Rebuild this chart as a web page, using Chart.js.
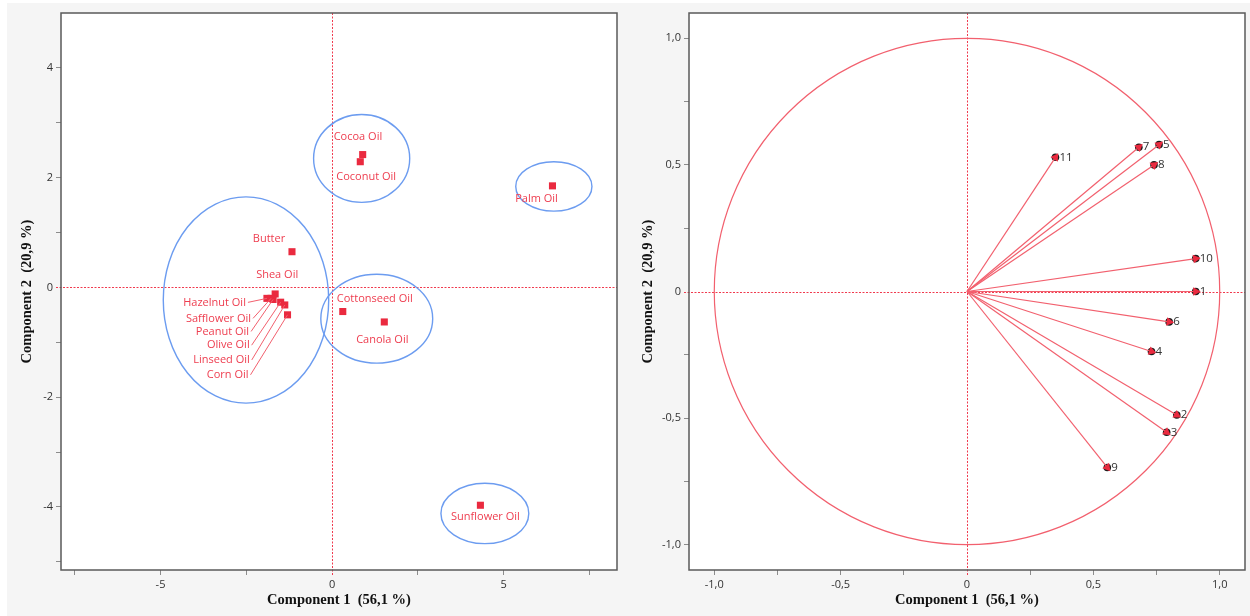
<!DOCTYPE html>
<html>
<head>
<meta charset="utf-8">
<script src="https://cdn.jsdelivr.net/npm/chart.js@4.4.0/dist/chart.umd.min.js"></script>
<style>
  html, body { margin: 0; padding: 0; background: #fff; width: 1250px; height: 616px; overflow: hidden; }
  #panel { position: absolute; left: 7px; top: 3px; width: 1243px; height: 613px; background: #f5f5f5; }
  canvas { position: absolute; top: 0; }
</style>
</head>
<body>
<div id="panel"></div>
<canvas id="scores" width="625" height="616" style="left:0"></canvas>
<canvas id="loadings" width="625" height="616" style="left:625px"></canvas>
<script>
// PCA scores (left)
const oilNames = ['Cocoa Oil', 'Coconut Oil', 'Palm Oil', 'Butter', 'Shea Oil', 'Hazelnut Oil',
  'Safflower Oil', 'Peanut Oil', 'Olive Oil', 'Linseed Oil', 'Corn Oil', 'Cottonseed Oil',
  'Canola Oil', 'Sunflower Oil'];
const pc1Scores = [0.89, 0.82, 6.42, -1.17, -1.66, -1.9, -1.78, -1.72, -1.5, -1.38, -1.3, 0.31, 1.52, 4.32];
const pc2Scores = [2.42, 2.29, 1.85, 0.65, -0.12, -0.2, -0.2, -0.22, -0.27, -0.32, -0.5, -0.44, -0.63, -3.97];

// group ellipses (centre and half-axes in score units)
const groupPc1 = [-2.51, 0.86, 6.46, 1.30, 4.45];
const groupPc2 = [-0.23, 2.35, 1.84, -0.57, -4.12];
const groupHalfWidth = [2.41, 1.40, 1.11, 1.63, 1.28];
const groupHalfHeight = [1.88, 0.80, 0.45, 0.81, 0.55];

// loadings (right)
const varIds = ['1', '2', '3', '4', '5', '6', '7', '8', '9', '10', '11'];
const load1 = [0.905, 0.83, 0.79, 0.73, 0.76, 0.80, 0.68, 0.74, 0.555, 0.905, 0.35];
const load2 = [0.0, -0.488, -0.556, -0.237, 0.58, -0.12, 0.57, 0.50, -0.695, 0.13, 0.53];

// tick positions (labelled ones get text, the rest are minor marks)
const scoreXTicks = [-7.5, -5, -2.5, 0, 2.5, 5, 7.5];
const scoreYTicks = [-5, -4, -3, -2, -1, 0, 1, 2, 3, 4];
const loadTicks = [-1, -0.75, -0.5, -0.25, 0, 0.25, 0.5, 0.75, 1];

const RED = '#ea2a3f';
const LABEL_RED = '#ee3d4f';
const LINE_RED = '#f2606e';
const ZERO_RED = '#f03a4e';
const BLUE = '#6c9cf0';
const FRAME = '#5a5a5a';

// label placement for the oils: [dx, dy, align, leader line]
const oilLabelPlace = [
  [-29, -18, 'left', false], [-24, 15, 'left', false], [-16, 13, 'center', false],
  [-23, -13, 'center', false], [2, -19, 'center', false], [-21, 4, 'right', true],
  [-20, 20, 'right', true], [-24, 32, 'right', true], [-31, 43, 'right', true],
  [-35, 55, 'right', true], [-39, 60, 'right', true], [-6, -13, 'left', false],
  [-2, 18, 'center', false], [5, 12, 'center', false]
];

function isMultiple(v, step) {
  const r = v / step;
  return Math.abs(r - Math.round(r)) < 1e-6;
}
const isZero = c => c.tick && Math.abs(c.tick.value) < 1e-9;
const intFmt = v => String(Math.round(v));
const commaFmt = v => Math.abs(v) < 1e-9 ? '0' : v.toFixed(1).replace('.', ',');

function axis(min, max, tickList, labelStep, fmt, title, titlePad, size, horizontal) {
  return {
    type: 'linear',
    min: min,
    max: max,
    afterBuildTicks: s => { s.ticks = tickList.map(v => ({ value: v })); },
    ticks: {
      autoSkip: false,
      maxRotation: 0,
      padding: 3,
      color: '#333',
      font: { family: 'Open Sans', size: 11 },
      callback: v => isMultiple(v, labelStep) ? fmt(v) : ''
    },
    grid: {
      drawOnChartArea: false,
      tickColor: c => isZero(c) ? 'rgba(0,0,0,0)' : '#8c8c8c',
      tickLength: 5
    },
    border: { display: false },
    title: {
      display: true,
      text: title,
      color: '#111',
      font: { family: 'Liberation Serif', size: 14.5, weight: 'bold' },
      padding: titlePad
    },
    afterFit: s => { if (horizontal) s.height = size; else s.width = size; }
  };
}

// white plot area, dotted zero lines, dark frame on all four sides
const plotFrame = {
  id: 'plotFrame',
  beforeDraw(chart) {
    const { ctx, chartArea: a } = chart;
    ctx.save();
    ctx.fillStyle = '#fff';
    ctx.fillRect(a.left, a.top, a.right - a.left, a.bottom - a.top);
    ctx.restore();
  },
  beforeDatasetsDraw(chart) {
    const { ctx, chartArea: a, scales: { x, y } } = chart;
    const zx = Math.round(x.getPixelForValue(0)) + 0.5;
    const zy = Math.round(y.getPixelForValue(0)) + 0.5;
    ctx.save();
    ctx.strokeStyle = ZERO_RED;
    ctx.lineWidth = 1;
    ctx.setLineDash([2, 1.5]);
    ctx.beginPath();
    ctx.moveTo(zx, a.top);
    ctx.lineTo(zx, a.bottom + 5);
    ctx.moveTo(a.left - 5, zy);
    ctx.lineTo(a.right, zy);
    ctx.stroke();
    ctx.restore();
  },
  afterDraw(chart) {
    const { ctx, chartArea: a } = chart;
    ctx.save();
    ctx.strokeStyle = FRAME;
    ctx.lineWidth = 1.5;
    ctx.strokeRect(a.left, a.top, a.right - a.left, a.bottom - a.top);
    ctx.restore();
  }
};

const groupEllipses = {
  id: 'groupEllipses',
  beforeDatasetsDraw(chart) {
    const { ctx, scales: { x, y } } = chart;
    ctx.save();
    ctx.strokeStyle = BLUE;
    ctx.lineWidth = 1.4;
    groupPc1.forEach((c1, i) => {
      const cx = x.getPixelForValue(c1);
      const cy = y.getPixelForValue(groupPc2[i]);
      const rx = Math.abs(x.getPixelForValue(c1 + groupHalfWidth[i]) - cx);
      const ry = Math.abs(y.getPixelForValue(groupPc2[i] + groupHalfHeight[i]) - cy);
      ctx.beginPath();
      ctx.ellipse(cx, cy, rx, ry, 0, 0, Math.PI * 2);
      ctx.stroke();
    });
    ctx.restore();
  }
};

const oilLabels = {
  id: 'oilLabels',
  afterDatasetsDraw(chart) {
    const { ctx } = chart;
    const pts = chart.getDatasetMeta(0).data;
    ctx.save();
    ctx.font = '11px "Open Sans"';
    ctx.textBaseline = 'middle';
    oilNames.forEach((name, i) => {
      const p = pts[i];
      const [dx, dy, align, leader] = oilLabelPlace[i];
      const tx = p.x + dx, ty = p.y + dy;
      ctx.textAlign = align;
      ctx.fillStyle = LABEL_RED;
      ctx.fillText(name, tx, ty);
      if (leader) {
        ctx.strokeStyle = LINE_RED;
        ctx.lineWidth = 1;
        ctx.beginPath();
        ctx.moveTo(tx + 2, ty);
        ctx.lineTo(p.x, p.y);
        ctx.stroke();
      }
    });
    ctx.restore();
  }
};

new Chart(document.getElementById('scores'), {
  type: 'scatter',
  data: {
    datasets: [{
      label: 'Scores',
      data: pc1Scores.map((v, i) => ({ x: v, y: pc2Scores[i] })),
      pointStyle: 'rect',
      pointRadius: 5,
      pointBorderWidth: 0,
      pointBackgroundColor: RED
    }]
  },
  options: {
    responsive: false,
    animation: false,
    events: [],
    layout: { padding: { top: 13, right: 8, left: 0, bottom: 0 } },
    plugins: { legend: { display: false }, tooltip: { enabled: false } },
    scales: {
      x: axis(-7.9, 8.3, scoreXTicks, 5, intFmt, 'Component 1  (56,1 %)', { top: 0, bottom: 7 }, 46, true),
      y: axis(-5.15, 5.0, scoreYTicks, 2, intFmt, 'Component 2  (20,9 %)', { top: 19, bottom: 0 }, 61, false)
    }
  },
  plugins: [plotFrame, groupEllipses, oilLabels]
});

// correlation circle
const unitCircle = {
  id: 'unitCircle',
  beforeDatasetsDraw(chart) {
    const { ctx, scales: { x, y } } = chart;
    const cx = x.getPixelForValue(0), cy = y.getPixelForValue(0);
    ctx.save();
    ctx.strokeStyle = LINE_RED;
    ctx.lineWidth = 1.2;
    ctx.beginPath();
    ctx.ellipse(cx, cy, x.getPixelForValue(1) - cx, cy - y.getPixelForValue(1), 0, 0, Math.PI * 2);
    ctx.stroke();
    ctx.restore();
  }
};

const varLabels = {
  id: 'varLabels',
  afterDatasetsDraw(chart) {
    const { ctx } = chart;
    const pts = chart.getDatasetMeta(varIds.length).data;
    ctx.save();
    ctx.font = '11.5px "Open Sans"';
    ctx.textBaseline = 'middle';
    ctx.textAlign = 'left';
    ctx.fillStyle = '#333';
    varIds.forEach((id, i) => ctx.fillText(id, pts[i].x + 4, pts[i].y));
    ctx.restore();
  }
};

const vectors = varIds.map((id, i) => ({
  label: id,
  data: [{ x: 0, y: 0 }, { x: load1[i], y: load2[i] }],
  showLine: true,
  borderColor: LINE_RED,
  borderWidth: 1.2,
  pointStyle: 'triangle',
  pointRadius: [0, 5],
  pointBorderWidth: 0,
  pointBackgroundColor: RED,
  pointRotation: [0, 90 - Math.atan2(load2[i], load1[i]) * 180 / Math.PI],
  order: 0
}));

new Chart(document.getElementById('loadings'), {
  type: 'scatter',
  data: {
    datasets: vectors.concat([{
      label: 'ends',
      data: load1.map((v, i) => ({ x: v, y: load2[i] })),
      pointRadius: 3.8,
      pointBorderWidth: 0,
      pointBackgroundColor: '#1b1b1b',
      order: 1
    }])
  },
  options: {
    responsive: false,
    animation: false,
    events: [],
    layout: { padding: { top: 13, right: 5, left: 0, bottom: 0 } },
    plugins: { legend: { display: false }, tooltip: { enabled: false } },
    scales: {
      x: axis(-1.1, 1.1, loadTicks, 0.5, commaFmt, 'Component 1  (56,1 %)', { top: 0, bottom: 7 }, 46, true),
      y: axis(-1.1, 1.1, loadTicks, 0.5, commaFmt, 'Component 2  (20,9 %)', { top: 15, bottom: 0 }, 64, false)
    }
  },
  plugins: [plotFrame, unitCircle, varLabels]
});
</script>
</body>
</html>
